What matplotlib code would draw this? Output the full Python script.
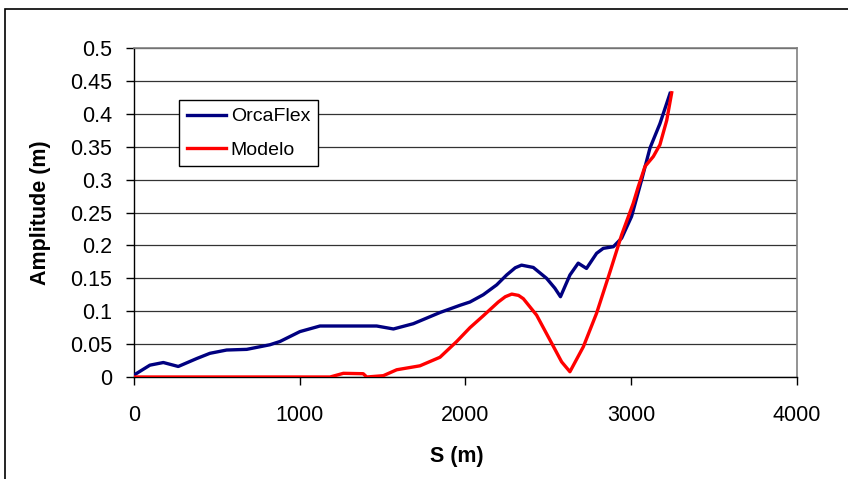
import matplotlib
matplotlib.use("Agg")
import matplotlib.pyplot as plt
from matplotlib.patches import Rectangle

plt.rcParams['font.family'] = ['Liberation Sans', 'DejaVu Sans']

orca_s = [0, 96, 177, 267, 378, 458, 559, 680, 820, 881, 1001, 1122, 1464, 1565, 1685, 1846,
          1967, 2027, 2107, 2188, 2248, 2300, 2338, 2409, 2489, 2539, 2573, 2630, 2680, 2730, 2791,
          2831, 2892, 2942, 3002, 3062, 3113, 3173, 3234]
orca_a = [0.003, 0.018, 0.022, 0.016, 0.028, 0.036, 0.041, 0.042, 0.049, 0.054, 0.069, 0.0775,
          0.0775, 0.073, 0.081, 0.098, 0.109, 0.114, 0.125, 0.140, 0.155, 0.166, 0.170, 0.1665, 0.150,
          0.135, 0.122, 0.155, 0.173, 0.165, 0.188, 0.1955, 0.198, 0.211, 0.244, 0.299, 0.348,
          0.385, 0.431]

modelo_s = [0, 1183, 1263, 1383, 1404, 1504, 1585, 1725, 1846, 1947, 2027, 2107, 2198, 2240, 2279,
            2320, 2349, 2429, 2510, 2580, 2630, 2711, 2791, 2872, 2942, 3012, 3042, 3083, 3133, 3173,
            3214, 3244]
modelo_a = [0.0, 0.0, 0.0056, 0.005, 0.0, 0.002, 0.011, 0.017, 0.030, 0.054, 0.075, 0.093, 0.114,
            0.122, 0.126, 0.124, 0.119, 0.094, 0.056, 0.023, 0.008, 0.046, 0.097, 0.160, 0.216,
            0.264, 0.289, 0.320, 0.335, 0.353, 0.390, 0.432]

xticks = [0, 1000, 2000, 3000, 4000]
yticks = [0, 0.05, 0.1, 0.15, 0.2, 0.25, 0.3, 0.35, 0.4, 0.45, 0.5]
ytick_labels = ['0', '0.05', '0.1', '0.15', '0.2', '0.25', '0.3', '0.35', '0.4', '0.45', '0.5']

W, H = 848, 479
fig = plt.figure(figsize=(W / 100, H / 100), dpi=100)
ax = fig.add_axes([134 / W, 1 - 377 / H, (797 - 134) / W, (377 - 48) / H])

# outer chart frame
fig.patches.append(Rectangle((5 / W, -0.05), 1.05, 1 - 9 / H + 0.05, transform=fig.transFigure,
                             fill=False, edgecolor='black', linewidth=1.2))

ax.plot(orca_s, orca_a, color='#000080', linewidth=2.4, label='OrcaFlex', zorder=3)
ax.plot(modelo_s, modelo_a, color='#FF0000', linewidth=2.4, label='Modelo', zorder=4)

ax.set_xlim(0, 4000)
ax.set_ylim(0, 0.5)
ax.set_xticks(xticks)
ax.set_xticklabels([str(t) for t in xticks])
ax.set_yticks(yticks)
ax.set_yticklabels(ytick_labels)
ax.tick_params(axis='both', labelsize=15.5, direction='out', length=6, width=1, color='black')
ax.tick_params(axis='x', pad=14)
ax.tick_params(axis='y', pad=10)
ax.yaxis.grid(True, color='#333333', linewidth=0.9)
ax.set_axisbelow(True)
for s in ['top', 'right']:
    ax.spines[s].set_color('#808080')
    ax.spines[s].set_linewidth(1.2)
for s in ['left', 'bottom']:
    ax.spines[s].set_color('black')
    ax.spines[s].set_linewidth(1.0)

ax.set_xlabel('S (m)', fontsize=15.5, fontweight='bold')
ax.set_ylabel('Amplitude (m)', fontsize=15.5, fontweight='bold')
ax.xaxis.set_label_coords((457 - 134) / 663, -(446 - 377) / 329)
ax.yaxis.set_label_coords(-(134 - 51) / 663, 0.5)

leg = ax.legend(loc='upper left', bbox_to_anchor=((179 - 134) / 663, (377 - 100) / 329),
                fontsize=14, frameon=True, fancybox=False, handlelength=2.0,
                borderpad=0.4, labelspacing=0.8, handletextpad=0.26, borderaxespad=0)
leg.get_frame().set_edgecolor('black')
leg.get_frame().set_linewidth(1.0)
leg.get_frame().set_alpha(1)

fig.savefig('out.png', dpi=100)
